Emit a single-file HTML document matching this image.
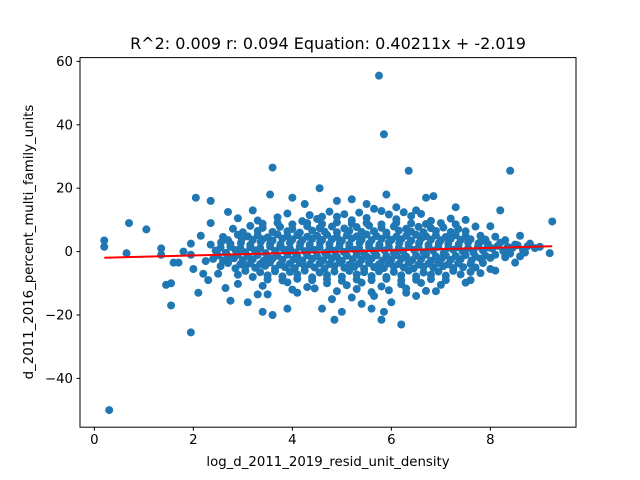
<!DOCTYPE html>
<html><head><meta charset="utf-8"><style>
body{margin:0;background:#fff}
svg{display:block;font-family:"DejaVu Sans","Liberation Sans",sans-serif}
</style></head><body>
<svg id="chart" width="640" height="480" viewBox="0 0 640 480">
<rect width="640" height="480" fill="#fff"/>
<text x="328" y="49" text-anchor="middle" font-size="16" fill="#000">R^2: 0.009 r: 0.094 Equation: 0.40211x + -2.019</text>
<g id="marks"></g>
<g id="axes"></g>
<rect x="80" y="57.6" width="496" height="369.6" fill="none" stroke="#000" stroke-width="1"/>
<text x="328" y="466" text-anchor="middle" font-size="13.3">log_d_2011_2019_resid_unit_density</text>
<text transform="translate(33,242) rotate(-90)" text-anchor="middle" font-size="13.3">d_2011_2016_percent_multi_family_units</text>
</svg>
<script>
const xValues=[0.2,0.2,0.3,0.65,0.7,1.05,1.35,1.35,1.45,1.55,1.55,1.6,1.7,1.95,1.95,2.05,2.1,2.35,5.75,5.85,3.6,6.35,8.4,9.25,9.2,6.2,4.85,3.6,3.4,5.8,5.6,
2.45,2.66,2.85,3.05,3.24,3.46,3.65,3.84,4.06,4.25,4.44,4.66,4.85,5.04,5.26,5.45,5.64,5.86,6.05,6.24,6.46,6.65,6.84,7.06,7.25,7.44,7.66,7.85,8.04,8.26,8.45,8.66,8.9,
2.35,2.56,2.75,2.96,3.15,3.36,3.55,3.76,3.95,4.16,4.35,4.56,4.75,4.96,5.15,5.36,5.55,5.76,5.95,6.16,6.35,6.56,6.75,6.96,7.15,7.36,7.55,7.76,7.95,8.2,8.5,
2.4,2.6,2.82,3.0,3.2,3.42,3.6,3.8,4.02,4.2,4.4,4.62,4.8,5.0,5.22,5.4,5.6,5.82,6.0,6.2,6.42,6.6,6.8,7.02,7.2,7.4,7.62,7.8,8.0,8.3,8.6,
2.6,2.9,3.1,3.3,3.5,3.7,3.9,4.1,4.3,4.5,4.7,4.9,5.1,5.3,5.5,5.7,5.9,6.1,6.3,6.5,6.7,6.9,7.1,7.3,7.5,7.8,8.1,
2.55,2.85,3.05,3.25,3.45,3.65,3.85,4.05,4.25,4.45,4.65,4.85,5.05,5.25,5.45,5.65,5.85,6.05,6.25,6.45,6.65,6.85,7.05,7.25,7.45,7.7,8.0,
2.8,3.15,3.4,3.75,4.0,4.3,4.55,4.8,5.05,5.3,5.55,5.8,6.05,6.3,6.55,6.8,7.05,7.35,7.7,
2.9,3.2,3.5,3.8,4.1,4.4,4.7,5.0,5.3,5.6,5.9,6.2,6.5,6.8,7.1,7.4,7.8,
2.9,3.3,3.7,4.2,4.5,4.9,5.2,5.5,5.8,6.1,6.4,6.8,7.2,
2.9,3.4,3.9,4.3,4.7,5.1,5.4,5.8,6.2,6.6,7.0,7.5,
2.7,3.2,3.55,4.0,4.25,4.55,4.9,5.2,5.5,5.9,6.1,6.7,6.85,7.3,7.5,8.0,8.2,8.6,8.8,2.35,2.15,2.5,2.3,2.65,2.75,3.3,3.5,3.9,4.1,4.6,4.8,5.2,5.4,5.65,6.0,6.3,6.5,6.9,7.6,8.1,8.5,8.3,2.0,2.2,2.25,1.95,1.8,3.1,5.0,5.85,4.6,6.5,7.8,9.0,
2.55,2.75,2.95,3.15,3.35,3.55,3.75,3.95,4.15,4.35,4.55,4.75,4.95,5.15,5.35,5.55,5.75,5.95,6.15,6.35,6.55,6.75,6.95,7.15,7.35,7.55,7.75,7.95,8.15,8.35,8.55,8.75,
2.5,2.7,2.9,3.1,3.3,3.5,3.7,3.9,4.1,4.3,4.5,4.7,4.9,5.1,5.3,5.5,5.7,5.9,6.1,6.3,6.5,6.7,6.9,7.1,7.3,7.5,7.7,7.9,8.1,8.4,8.7,
2.7,2.98,3.2,3.4,3.6,3.8,4.0,4.2,4.4,4.6,4.8,5.0,5.2,5.4,5.6,5.8,6.0,6.2,6.4,6.6,6.8,7.0,7.2,7.4,7.6,7.9,8.3,
2.7,2.95,3.15,3.35,3.55,3.75,3.95,4.15,4.35,4.55,4.75,4.95,5.15,5.35,5.55,5.75,5.95,6.15,6.35,6.55,6.75,6.95,7.15,7.35,7.6,7.85,
3.0,3.3,3.6,3.9,4.15,4.4,4.65,4.9,5.15,5.4,5.65,5.9,6.15,6.4,6.65,6.9,7.2,7.5,
3.05,3.35,3.65,3.95,4.25,4.55,4.85,5.15,5.45,5.75,6.05,6.35,6.65,6.95,7.25,7.6,
3.4,3.7,4.0,4.3,4.6,4.9,5.2,5.5,5.8,6.1,6.4,6.7,7.0,7.3,
3.5,3.8,4.1,4.4,4.7,5.0,5.3,5.6,5.9,6.2,6.5,6.8,7.1,
3.9,4.35,4.75,5.05,5.35,5.65,5.95,6.25,6.6,
4.0,4.45,4.9,5.3,5.6,5.95,6.3,6.7];
const yValues=[3.5,1.5,-50,-0.5,9,7,1,-1,-10.5,-17,-10,-3.5,-3.5,-25.5,2.5,17,-13,16,55.5,37,26.5,25.5,25.5,9.5,-0.5,-23,-21.5,-20,-19,-21.5,-18,
0.3,-0.4,0.5,-0.2,0.4,-0.5,0.2,0.6,-0.3,0.1,0.5,-0.4,0.3,-0.1,0.6,-0.5,0.2,0.4,-0.3,0.1,0.5,-0.2,0.3,-0.4,0.6,0.1,-0.3,0.4,1.0,0.2,1.2,0.5,1.1,
2.2,2.9,2.4,2.7,2.1,3.0,2.5,2.3,2.8,2.6,2.2,2.9,2.4,2.7,2.3,2.8,2.5,2.2,2.9,2.6,2.4,2.8,2.1,2.7,2.5,2.3,2.9,2.6,2.4,2.8,2.2,
-2.3,-2.8,-2.1,-2.7,-2.4,-2.9,-2.2,-2.6,-2.5,-2.8,-2.3,-2.7,-2.1,-2.9,-2.4,-2.6,-2.2,-2.8,-2.5,-2.3,-2.7,-2.4,-2.9,-2.1,-2.6,-2.4,-2.8,-2.2,-2.0,-1.8,-1.5,
4.6,5.3,4.8,5.1,4.5,5.4,4.9,5.2,4.7,5.0,5.3,4.6,5.1,4.8,5.4,4.9,5.2,4.7,5.0,5.3,4.8,5.1,4.6,5.2,4.9,5.0,4.7,
-4.6,-5.3,-4.8,-5.1,-4.5,-5.4,-4.9,-5.2,-4.7,-5.0,-5.3,-4.6,-5.1,-4.8,-5.4,-4.9,-5.2,-4.7,-5.0,-5.3,-4.8,-5.1,-4.6,-5.2,-4.9,-5.0,-5.5,
7.2,8.1,7.5,7.8,7.1,8.0,7.4,7.9,7.3,7.7,8.2,7.5,7.9,7.2,7.8,7.4,7.6,7.1,7.9,
-7.3,-8.0,-7.5,-7.8,-7.2,-8.1,-7.4,-7.9,-7.2,-7.7,-8.0,-7.5,-7.8,-7.3,-7.6,-7.2,-6.8,
10.5,9.8,10.8,9.6,10.3,11.0,9.9,10.6,12.8,10.2,11.2,9.7,10.4,
-10.2,-10.8,-9.7,-11.2,-10.0,-10.6,-9.8,-11.0,-10.3,-9.9,-10.5,-9.8,
12.5,13,18,17,15,20,16,16.5,15,18,14,17,17.5,14,10,8,13,5,2.5,9,5,-7,-9,-11.5,-15.5,-13.5,-13.5,-18,-13,-18,-15,-14.5,-16.5,-14,-16,-13,-14,-12.5,-9,-6,-3.5,-1.5,-5.5,-7,-3,-1,0,-16,-19,-19,11,13,3,1.5,
1.2,1.5,1.0,1.4,1.1,1.6,1.3,1.0,1.5,1.2,1.4,1.1,1.6,1.3,1.0,1.5,1.2,1.4,1.1,1.6,1.3,1.0,1.5,1.2,1.4,1.1,1.6,1.3,1.8,1.5,2.0,1.7,
-1.2,-1.5,-1.0,-1.4,-1.1,-1.6,-1.3,-1.0,-1.5,-1.2,-1.4,-1.1,-1.6,-1.3,-1.0,-1.5,-1.2,-1.4,-1.1,-1.6,-1.3,-1.0,-1.5,-1.2,-1.4,-1.1,-1.6,-1.3,-1.0,-0.6,-0.3,
3.6,4.0,3.7,3.9,3.5,4.1,3.8,3.6,4.0,3.7,3.9,3.5,4.1,3.8,3.6,4.0,3.7,3.9,3.5,4.1,3.8,3.6,4.0,3.7,3.9,3.8,3.6,
-3.6,-4.0,-3.7,-3.9,-3.5,-4.1,-3.8,-3.6,-4.0,-3.7,-3.9,-3.5,-4.1,-3.8,-3.6,-4.0,-3.7,-3.9,-3.5,-4.1,-3.8,-3.6,-4.0,-3.7,-3.9,-3.6,
6.1,6.5,6.2,6.4,6.0,6.6,6.3,6.1,6.5,6.2,6.4,6.0,6.6,6.3,6.1,6.5,6.2,6.4,
-6.1,-6.5,-6.2,-6.4,-6.0,-6.6,-6.3,-6.1,-6.5,-6.2,-6.4,-6.0,-6.6,-6.3,-6.1,-6.4,
8.8,9.1,8.6,9.0,8.7,9.2,8.8,9.0,8.6,9.1,8.9,8.7,9.0,8.6,
-8.8,-9.1,-8.6,-9.0,-8.7,-9.2,-8.8,-9.0,-8.6,-9.1,-8.9,-8.7,-9.0,
12.0,11.5,12.6,11.8,12.3,13.5,11.7,12.4,11.9,
-12.0,-11.6,-12.5,-11.8,-12.8,-12.2,-11.7,-12.4];
const xTicks=[0,2,4,6,8];
const yTicks=[-40,-20,0,20,40,60];
const slope=0.40211, intercept=-2.019;

const X0=80,X1=576,Y0=427.2,Y1=57.6,xmin=-0.29,xmax=9.73,ymin=-55.4,ymax=61.2;
const sx=v=>X0+(v-xmin)/(xmax-xmin)*(X1-X0);
const sy=v=>Y0-(v-ymin)/(ymax-ymin)*(Y0-Y1);
const NS='http://www.w3.org/2000/svg';
const marks=document.getElementById('marks'),axes=document.getElementById('axes');
for(let i=0;i<xValues.length;i++){
 const c=document.createElementNS(NS,'circle');
 c.setAttribute('cx',sx(xValues[i]));c.setAttribute('cy',sy(yValues[i]));c.setAttribute('r',4);c.setAttribute('fill','#1f77b4');
 
 
 marks.appendChild(c);
}
const xs=Math.min(...xValues),xe=Math.max(...xValues);
const ln=document.createElementNS(NS,'line');
ln.setAttribute('x1',sx(xs));ln.setAttribute('y1',sy(slope*xs+intercept));
ln.setAttribute('x2',sx(xe));ln.setAttribute('y2',sy(slope*xe+intercept));
ln.setAttribute('stroke','#ff0000');ln.setAttribute('stroke-width',2);


marks.appendChild(ln);
xTicks.forEach(t=>{
 const x=sx(t);
 const l=document.createElementNS(NS,'line');
 l.setAttribute('x1',x);l.setAttribute('x2',x);l.setAttribute('y1',Y0);l.setAttribute('y2',Y0+3.5);l.setAttribute('stroke','#000');
 
 
 axes.appendChild(l);
 const tx=document.createElementNS(NS,'text');
 tx.setAttribute('x',x);tx.setAttribute('y',Y0+17);tx.setAttribute('text-anchor','middle');tx.setAttribute('font-size','13.3');
 tx.textContent=t;
 
 
 axes.appendChild(tx);
});
yTicks.forEach(t=>{
 const y=sy(t);
 const l=document.createElementNS(NS,'line');
 l.setAttribute('x1',X0-3.5);l.setAttribute('x2',X0);l.setAttribute('y1',y);l.setAttribute('y2',y);l.setAttribute('stroke','#000');
 
 
 axes.appendChild(l);
 const tx=document.createElementNS(NS,'text');
 tx.setAttribute('x',X0-7);tx.setAttribute('y',y+4.5);tx.setAttribute('text-anchor','end');tx.setAttribute('font-size','13.3');
 tx.textContent=t<0?'\u2212'+(-t):t;
 
 
 axes.appendChild(tx);
});
</script>
</body></html>
